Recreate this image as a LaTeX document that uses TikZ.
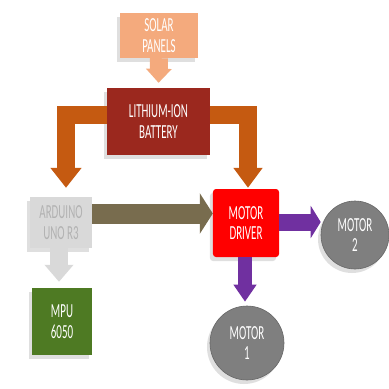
\documentclass[tikz,border=0pt]{standalone}
\usepackage{fontspec}
\newfontfamily\boxfont[FakeStretch=0.55]{Carlito}
\usetikzlibrary{arrows.meta}
\usetikzlibrary{shadows}

\definecolor{solarc}{RGB}{244,170,125}
\definecolor{batc}{RGB}{155,40,30}
\definecolor{ardc}{RGB}{217,217,217}
\definecolor{mpuc}{RGB}{78,122,35}
\definecolor{motorc}{RGB}{127,127,127}
\definecolor{orangec}{RGB}{197,90,17}
\definecolor{olivec}{RGB}{120,108,78}
\definecolor{purplec}{RGB}{112,48,160}

\begin{document}
\begin{tikzpicture}[x=1bp,y=-1bp,
  block/.style={draw=none, minimum width=#1, align=center, text=white,
    font=\boxfont\fontsize{20}{21}\selectfont,
    drop shadow={shadow xshift=-3bp, shadow yshift=-4bp, opacity=0.25}},
  motor/.style={circle, draw=black!60, line width=0.6bp, fill=motorc, minimum size=#1,
    inner sep=0pt, align=center, text=white, font=\boxfont\fontsize{20}{21}\selectfont,
    drop shadow={shadow xshift=-3bp, shadow yshift=-4bp, opacity=0.25}},
  fat/.style={line width=#1, line join=miter}]
\useasboundingbox[fill=white] (0,0) rectangle (389,389);

\node[block=78bp, minimum height=45bp, fill=solarc] (solar) at (159,35.5) {SOLAR\\PANELS};
\node[block=103bp, minimum height=67bp, fill=batc] (bat) at (158.5,121.5) {LITHIUM-ION\\BATTERY};
\node[block=62bp, minimum height=51bp, fill=ardc, text=gray!60] (ard) at (61,222.5) {ARDUINO\\UNO R3};
\node[block=66bp, minimum height=68bp, fill=red, rounded corners=3bp] (drv) at (246,223) {MOTOR\\DRIVER};
\node[block=60bp, minimum height=67bp, fill=mpuc] (mpu) at (62,321.5) {MPU\\6050};
\node[motor=74bp] (m1) at (247,343) {MOTOR\\1};
\node[motor=68bp] (m2) at (355,235) {MOTOR\\2};

\coordinate (lk) at (66,115);
\coordinate (rk) at (248,115);

\draw[fat=18bp, color=solarc, -{Triangle[width=25bp,length=14bp]}, shorten >=5bp]
  (solar.south) -- (bat.north);
\draw[fat=18bp, color=orangec, -{Triangle[width=30bp,length=20bp]}]
  (bat.west |- lk) -- (lk) -- ([yshift=9bp]ard.north -| lk);
\draw[fat=18bp, color=orangec, -{Triangle[width=28bp,length=20bp]}]
  (bat.east |- rk) -- (rk) -- ([yshift=1bp]drv.north -| rk);
\draw[fat=20bp, color=olivec, -{Triangle[width=40bp,length=13bp]}]
  ([yshift=9bp]ard.east) -- ([yshift=9bp]ard.east -| drv.west);
\draw[fat=18bp, color=ardc, -{Triangle[width=28bp,length=17bp]}, shorten >=6bp]
  ([xshift=-2bp]ard.south) -- ([xshift=-2bp]ard.south |- mpu.north);
\draw[fat=17bp, color=purplec, -{Triangle[width=32bp,length=10bp]}]
  ([yshift=1bp]drv.east) -- ([yshift=1bp]drv.east -| m2.west);
\draw[fat=14bp, color=purplec, -{Triangle[width=22bp,length=17bp]}, shorten >=4bp]
  ([xshift=-1bp]drv.south) -- ([xshift=-1bp]drv.south |- m1.north);
\end{tikzpicture}
\end{document}
